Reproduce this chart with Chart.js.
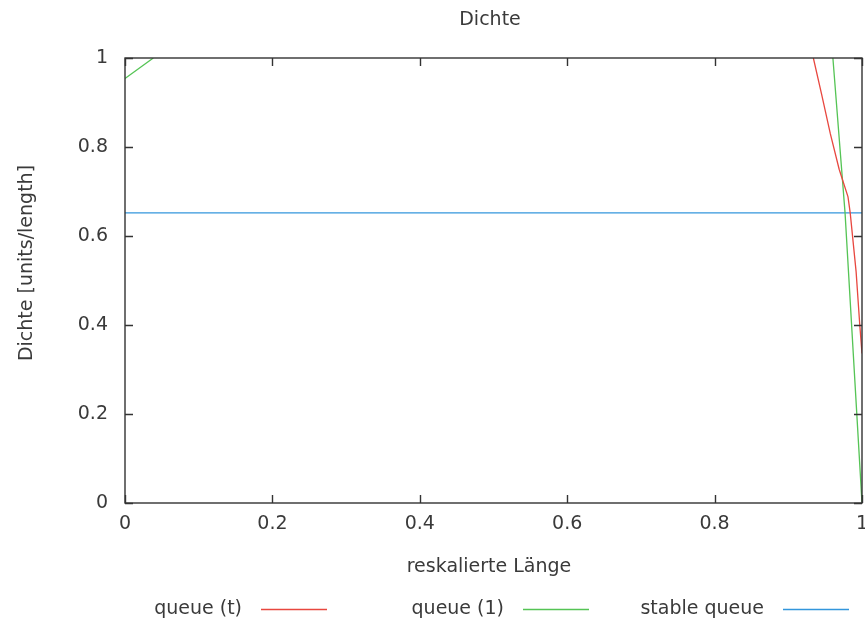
<!DOCTYPE html>
<html>
<head>
<meta charset="utf-8">
<script src="https://cdn.jsdelivr.net/npm/chart.js@4.4.1/dist/chart.umd.min.js"></script>
<style>
  html, body { margin: 0; padding: 0; background: #ffffff; }
  #wrap { width: 865px; height: 624px; }
</style>
</head>
<body>
<div id="wrap"><canvas id="c" width="865" height="624"></canvas></div>
<script>
// Tick positions on both axes
const xTicks = [0, 0.2, 0.4, 0.6, 0.8, 1];
const yTicks = [0, 0.2, 0.4, 0.6, 0.8, 1];

// Density profiles over the rescaled length (null breaks the line where it leaves the plot)
const queueTX = [0.934, 0.945, 0.957, 0.969, 0.981, 0.984, 0.992, 0.997, 1.0];
const queueTY = [1.0, 0.92, 0.83, 0.75, 0.688, 0.652, 0.52, 0.40, 0.336];

const queue1X = [0.0, 0.0384, null, 0.9605, 0.977, 1.0];
const queue1Y = [0.954, 1.0, null, 1.0, 0.652, 0.0];

const stableX = [0.0, 1.0];
const stableY = [0.652, 0.652];

const seriesLabels = ['queue (t)', 'queue (1)', 'stable queue'];
const seriesColors = ['#e8473f', '#55c455', '#3396dc'];

function pts(xs, ys) {
  return xs.map((x, i) => (x === null ? { x: NaN, y: null } : { x: x, y: ys[i] }));
}

const FONT = 'DejaVu Sans';
const FSIZE = 19;
const TEXT = '#3a3a3a';
const FRAME = '#333333';

// Frame, inward tick marks (mirrored on all four sides), titles and legend
const decor = {
  id: 'decor',
  afterDatasetsDraw(chart) {
    const ctx = chart.ctx;
    const a = chart.chartArea;
    const xs = chart.scales.x, ys = chart.scales.y;
    ctx.save();
    ctx.strokeStyle = FRAME;
    ctx.lineWidth = 1.4;
    ctx.strokeRect(a.left, a.top, a.right - a.left, a.bottom - a.top);
    const tl = 8;
    ctx.beginPath();
    xTicks.forEach(v => {
      const px = Math.round(xs.getPixelForValue(v)) + 0.5;
      ctx.moveTo(px, a.bottom); ctx.lineTo(px, a.bottom - tl);
      ctx.moveTo(px, a.top); ctx.lineTo(px, a.top + tl);
    });
    yTicks.forEach(v => {
      const py = Math.round(ys.getPixelForValue(v)) + 0.5;
      ctx.moveTo(a.left, py); ctx.lineTo(a.left + tl, py);
      ctx.moveTo(a.right, py); ctx.lineTo(a.right - tl, py);
    });
    ctx.stroke();

    ctx.fillStyle = TEXT;
    ctx.font = FSIZE + 'px "' + FONT + '"';
    ctx.textAlign = 'center';
    ctx.textBaseline = 'middle';
    ctx.fillText('Dichte', 490, 20);
    ctx.fillText('reskalierte Länge', 489, 567);

    ctx.save();
    ctx.translate(27, 263);
    ctx.rotate(-Math.PI / 2);
    ctx.fillText('Dichte [units/length]', 0, 0);
    ctx.restore();

    // legend: label, then a short line sample in the series colour
    const lineStarts = [261, 523, 783];
    const legendY = 609;
    chart.data.datasets.forEach((ds, i) => {
      const x0 = lineStarts[i];
      ctx.textAlign = 'right';
      ctx.fillStyle = TEXT;
      ctx.fillText(ds.label, x0 - 19, legendY);
      ctx.strokeStyle = ds.borderColor;
      ctx.lineWidth = 1.4;
      ctx.beginPath();
      ctx.moveTo(x0, legendY + 0.5);
      ctx.lineTo(x0 + 66, legendY + 0.5);
      ctx.stroke();
    });
    ctx.restore();
  }
};

new Chart(document.getElementById('c'), {
  type: 'line',
  data: {
    datasets: [
      { label: seriesLabels[0], data: pts(queueTX, queueTY), borderColor: seriesColors[0] },
      { label: seriesLabels[1], data: pts(queue1X, queue1Y), borderColor: seriesColors[1] },
      { label: seriesLabels[2], data: pts(stableX, stableY), borderColor: seriesColors[2] }
    ].map(d => Object.assign(d, {
      borderWidth: 1.3,
      pointRadius: 0,
      tension: 0,
      fill: false,
      spanGaps: false
    }))
  },
  options: {
    responsive: false,
    animation: false,
    devicePixelRatio: 1,
    layout: { padding: { left: 0, right: 3, top: 58, bottom: 0 } },
    plugins: {
      legend: { display: false },
      title: { display: false },
      tooltip: { enabled: false }
    },
    scales: {
      x: {
        type: 'linear',
        min: 0, max: 1,
        afterBuildTicks: s => { s.ticks = xTicks.map(v => ({ value: v })); },
        afterFit: s => { s.height = 121; s.paddingLeft = 0; s.paddingRight = 0; },
        grid: { display: false, drawTicks: false },
        border: { display: false },
        ticks: {
          padding: 10,
          color: TEXT,
          font: { family: FONT, size: FSIZE },
          maxRotation: 0,
          callback: v => String(v)
        }
      },
      y: {
        type: 'linear',
        min: 0, max: 1,
        afterBuildTicks: s => { s.ticks = yTicks.map(v => ({ value: v })); },
        afterFit: s => { s.width = 125; s.paddingTop = 0; s.paddingBottom = 0; },
        grid: { display: false, drawTicks: false },
        border: { display: false },
        ticks: {
          padding: 17,
          color: TEXT,
          font: { family: FONT, size: FSIZE },
          callback: v => String(v)
        }
      }
    }
  },
  plugins: [decor]
});
</script>
</body>
</html>
